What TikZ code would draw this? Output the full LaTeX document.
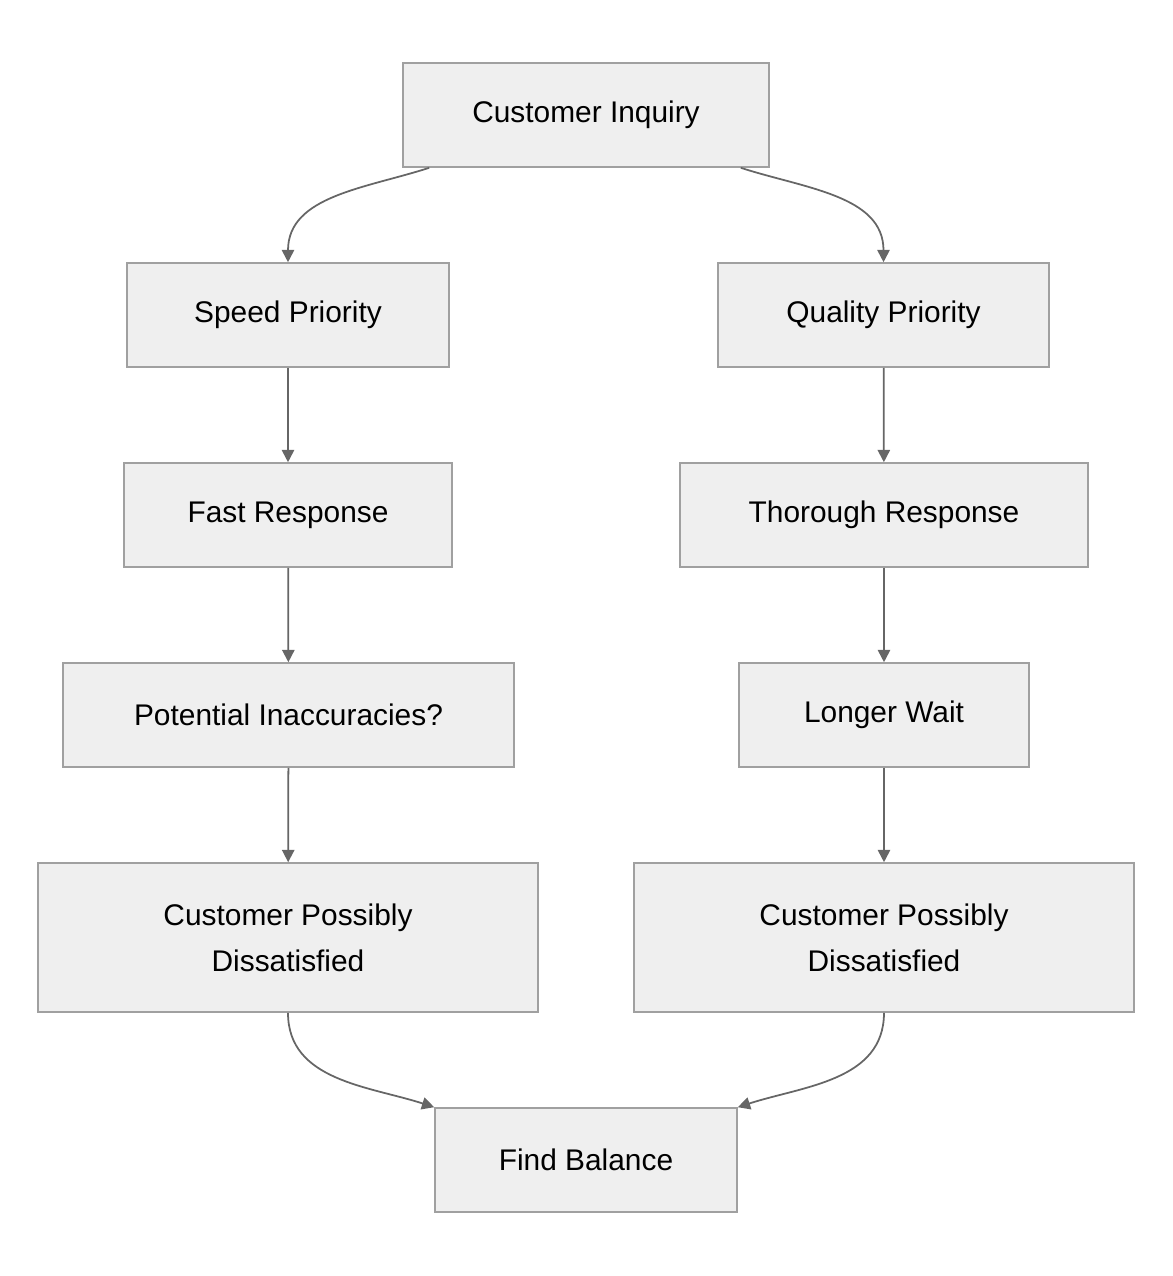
\documentclass[tikz,border=0pt]{standalone}
\usepackage{fontspec}
\setmainfont{Liberation Sans}
\usetikzlibrary{positioning,arrows.meta}
\definecolor{boxfill}{HTML}{EFEFEF}
\definecolor{boxline}{HTML}{A0A0A0}
\definecolor{arrline}{HTML}{666666}
\tikzset{
  box/.style = {draw=boxline, fill=boxfill, line width=0.9pt, minimum height=2.08cm,
                align=center, font=\fontsize{17}{26}\selectfont},
  flow/.style = {draw=arrline, line width=1pt, -{Triangle[length=7pt,width=7pt]}}
}
\begin{document}
\begin{tikzpicture}
\useasboundingbox (0,0) rectangle (23.44,-25.52);
\node [box, minimum width=7.32cm] (inq) at (11.72,-2.30) {Customer Inquiry};
\node [box, minimum width=6.44cm] (spd) at (5.76,-6.30) {Speed Priority};
\node [box, minimum width=6.62cm] (qlt) at (17.67,-6.30) {Quality Priority};
\node [box, minimum width=6.56cm] (fst) at (5.76,-10.30) {Fast Response};
\node [box, minimum width=8.16cm] (thr) at (17.68,-10.30) {Thorough Response};
\node [box, minimum width=9.02cm] (ina) at (5.77,-14.30) {Potential Inaccuracies?};
\node [box, minimum width=5.80cm] (wait) at (17.68,-14.30) {Longer Wait};
\node [box, minimum width=10cm, minimum height=2.98cm] (dsl) at (5.76,-18.75) {Customer Possibly\\Dissatisfied};
\node [box, minimum width=10cm, minimum height=2.98cm] (dsr) at (17.68,-18.75) {Customer Possibly\\Dissatisfied};
\node [box, minimum width=6.04cm] (bal) at (11.72,-23.20) {Find Balance};
% branches
\draw [flow] ([xshift=0.54cm]inq.south west) to [out=-162, in=90] (spd.north);
\draw [flow] ([xshift=-0.58cm]inq.south east) to [out=-18, in=90] (qlt.north);
\draw [flow] (spd) -- (fst);
\draw [flow] (fst) -- (ina);
\draw [flow] (ina) -- (dsl);
\draw [flow] (qlt) -- (thr);
\draw [flow] (thr) -- (wait);
\draw [flow] (wait) -- (dsr);
\draw [flow] (dsl.south) to [out=-90, in=162] (bal.north west);
\draw [flow] (dsr.south) to [out=-90, in=18] (bal.north east);
\end{tikzpicture}
\end{document}
